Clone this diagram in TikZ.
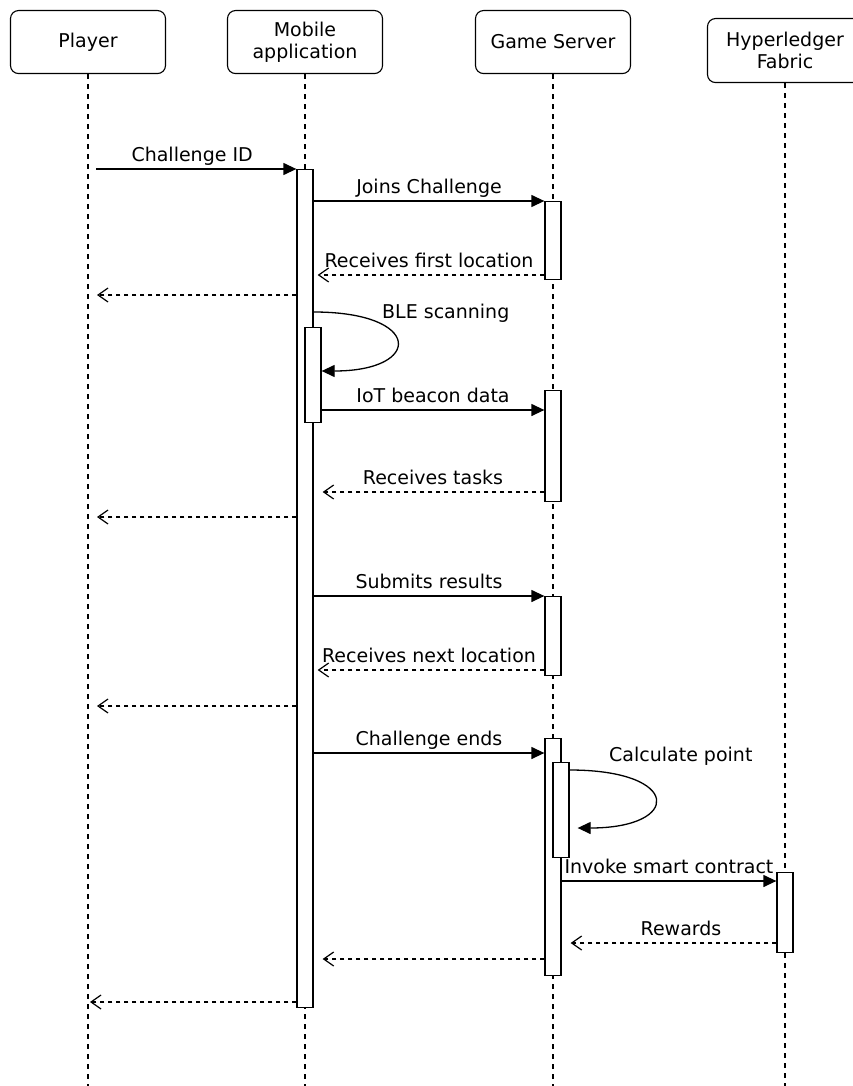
\documentclass[tikz,border=0pt]{standalone}
\usepackage{fontspec}
\setmainfont{DejaVu Sans}
\usetikzlibrary{arrows.meta}
\begin{document}
\begin{tikzpicture}[x=1pt,y=-1pt,
  font=\fontsize{19}{22}\selectfont,
  head/.style={draw, rounded corners=8pt, line width=1.1pt, minimum width=155pt,
    minimum height=63pt, align=center, inner sep=2pt, anchor=north},
  life/.style={line width=1.1pt, dash pattern=on 5pt off 5pt},
  act/.style={draw, fill=white, line width=1.3pt, minimum width=16pt, inner sep=0pt, anchor=north},
  msg/.style={line width=1.3pt, -{Triangle[length=13pt,width=12pt]}},
  ret/.style={line width=1.2pt, dash pattern=on 4pt off 4pt,
    -{Straight Barb[length=10pt,width=14pt]}},
  lbl/.style={above=1pt, inner sep=2pt, text height=13.5pt, text depth=4pt}]
\useasboundingbox (0,0) rectangle (853,1086);
\clip (0,0) rectangle (853,1086);

% participants
\node[head] (hP) at (88,10) {Player};
\node[head] (hM) at (305,10) {Mobile\\application};
\node[head] (hG) at (553,10) {Game Server};
\node[head, minimum height=64pt] (hH) at (785,18) {Hyperledger\\Fabric};

% lifelines
\coordinate (eP) at (88,1086);
\coordinate (eM) at (305,1086);
\coordinate (eG) at (553,1086);
\coordinate (eH) at (785,1086);
\draw[life] (hP.south) -- (eP);
\draw[life] (hM.south) -- (eM);
\draw[life] (hG.south) -- (eG);
\draw[life] (hH.south) -- (eH);

% activation bars
\node[act, minimum height=838pt] (ma) at (305,169) {};
\node[act, minimum height=95pt] (ma2) at (313,327) {};
\node[act, minimum height=78pt] (gs1) at (553,201) {};
\node[act, minimum height=111pt] (gs2) at (553,390) {};
\node[act, minimum height=79pt] (gs3) at (553,596) {};
\node[act, minimum height=237pt] (gs4) at (553,738) {};
\node[act, minimum height=95pt] (gs5) at (561,762) {};
\node[act, minimum height=80pt] (hf1) at (785,872) {};

% joining the challenge
\draw[msg, shorten <=8pt] (hP.south |- ma.north) -- node[lbl] {Challenge ID} (ma.north west);
\draw[msg] (ma.east |- gs1.north) -- node[lbl] {Joins Challenge} (gs1.north west);
\draw[ret, shorten >=4pt] (gs1.west |- 0,275) -- node[lbl] {Receives first location} (ma.east |- 0,275);
\draw[ret, shorten >=9pt] (ma.west |- 0,295) -- (hP.south |- 0,295);

% beacon scanning
\draw[msg] (ma.east |- 0,312) .. controls (423,312) and (423,371) .. (ma2.east |- 0,371);
\node[anchor=west, inner sep=0pt] (tBLE) at (382,313) {BLE scanning};
\draw[msg] (ma2.east |- 0,410) -- node[lbl] {IoT beacon data} (gs2.west |- 0,410);
\draw[ret, shorten >=1pt] (gs2.west |- 0,492) -- node[lbl] {Receives tasks} (ma2.east |- 0,492);
\draw[ret, shorten >=9pt] (ma.west |- 0,517) -- (hP.south |- 0,517);

% task results
\draw[msg] (ma.east |- gs3.north) -- node[lbl] {Submits results} (gs3.north west);
\draw[ret, shorten >=4pt] (gs3.west |- 0,670) -- node[lbl] {Receives next location} (ma.east |- 0,670);
\draw[ret, shorten >=9pt] (ma.west |- 0,706) -- (hP.south |- 0,706);

% end of the challenge
\draw[msg] (ma.east |- 0,753) -- node[lbl] {Challenge ends} (gs4.west |- 0,753);
\draw[msg] (gs5.east |- 0,770) .. controls (682,770) and (682,828) .. ([xshift=8pt]gs5.east |- 0,828);
\node[anchor=west, inner sep=0pt] (tCalc) at (609,756) {Calculate point};
\draw[msg] (gs4.east |- 0,881) -- node[lbl] {Invoke smart contract} (hf1.west |- 0,881);
\draw[ret, shorten >=9pt] (hf1.west |- 0,943) -- node[lbl, xshift=12pt] {Rewards} (gs4.east |- 0,943);
\draw[ret, shorten >=9pt] (gs4.west |- 0,959) -- (ma.east |- 0,959);
\draw[ret, shorten >=2pt] (ma.west |- 0,1002) -- (hP.south |- 0,1002);
\end{tikzpicture}
\end{document}
